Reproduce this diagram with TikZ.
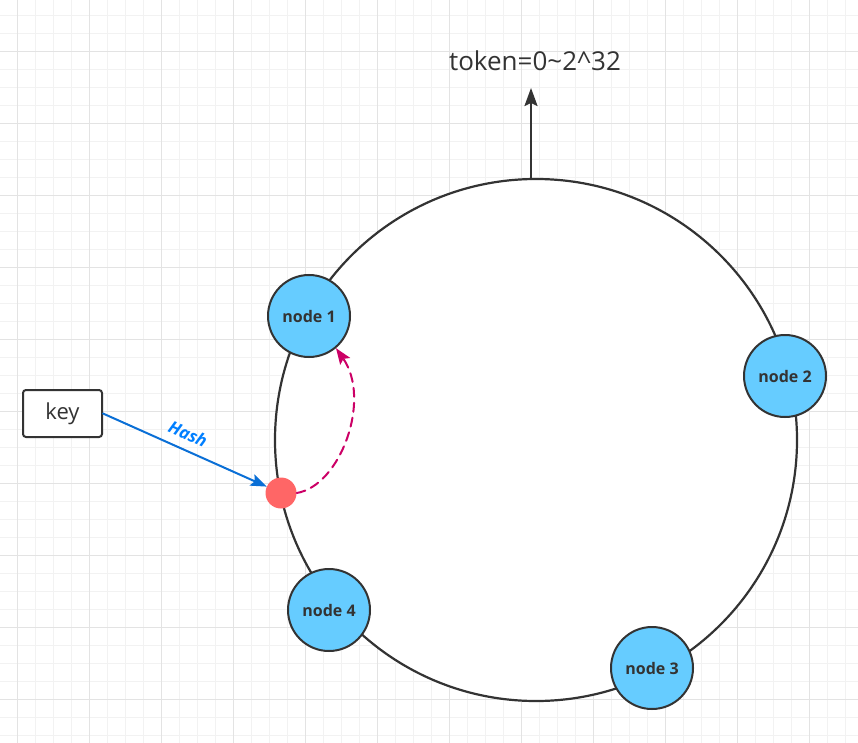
\documentclass[tikz,border=0pt]{standalone}
\usepackage{fontspec}
\setmainfont{Open Sans}
\usetikzlibrary{arrows.meta}
\definecolor{gridminor}{HTML}{F2F2F2}
\definecolor{gridmajor}{HTML}{E3E3E3}
\definecolor{ringline}{HTML}{333333}
\definecolor{nodeblue}{HTML}{66CCFF}
\definecolor{dotred}{HTML}{FF6666}
\definecolor{hashblue}{HTML}{0A6FD6}
\definecolor{hashtext}{HTML}{007FFF}
\definecolor{lookup}{HTML}{CC0066}
\tikzset{
  ringnode/.style={circle,draw=ringline,fill=nodeblue,line width=2pt,minimum size=82pt,inner sep=0pt,
    font=\bfseries\fontsize{16}{18}\selectfont,text=ringline},
  keybox/.style={rectangle,rounded corners=3pt,draw=ringline,fill=white,line width=2pt,
    minimum width=79pt,minimum height=47pt,font=\fontsize{22}{25}\selectfont,text=ringline},
}
\begin{document}
\begin{tikzpicture} [x=1pt,y=-1pt,line cap=round]
		\useasboundingbox [fill=white] (0,0) rectangle (858,743);
		% grid
		\foreach \i in {0,...,47}
			\draw [gridminor,line width=1pt] ({17.3+18*\i},0) -- ++(0,743);
		\foreach \i in {0,...,40}
			\draw [gridminor,line width=1pt] (0,{15.3+18*\i}) -- ++(858,0);
		\foreach \i in {0,...,11}
			\draw [gridmajor,line width=1pt] ({17.3+72*\i},0) -- ++(0,743);
		\foreach \i in {0,...,9}
			\draw [gridmajor,line width=1pt] (0,{51.3+72*\i}) -- ++(858,0);
		% ring
		\draw [ringline,fill=white,line width=2.2pt] (536,440) circle [radius=261pt];
		\coordinate (ringtop) at (531,179);
		\coordinate (tokentip) at (531,88);
		\draw [ringline,line width=2.2pt,-{Stealth[length=18pt,width=13pt,inset=3pt]}] (ringtop) -- (tokentip);
		\node [text=ringline,font=\fontsize{26}{30}\selectfont] (token) at (535,61) {token=0\char`\~2\char`\^32};
		% nodes on the ring
		\node [ringnode] (n1) at (309,316) {node 1};
		\node [ringnode] (n2) at (785,376) {node 2};
		\node [ringnode] (n3) at (652,668) {node 3};
		\node [ringnode] (n4) at (329,610) {node 4};
		% key and its hash point
		\node [keybox] (key) at (62.5,413.5) {key};
		\node [circle,fill=dotred,minimum size=31pt,inner sep=0pt] (dot) at (281,493) {};
		\draw [hashblue,line width=2pt,-{Stealth[length=16pt,width=12pt,inset=3pt]}] (key.east) -- (dot)
			node [pos=0.48,sloped,above=5pt,text=hashtext,font=\bfseries\itshape\fontsize{17}{19}\selectfont] (hash) {Hash};
		\draw [lookup,line width=2pt,dash pattern=on 9pt off 6pt,-{Stealth[length=16pt,width=12pt,inset=3pt]}]
			(dot.east) .. controls (340,486) and (372,400) .. (n1.-50);
	\end{tikzpicture}
\end{document}
